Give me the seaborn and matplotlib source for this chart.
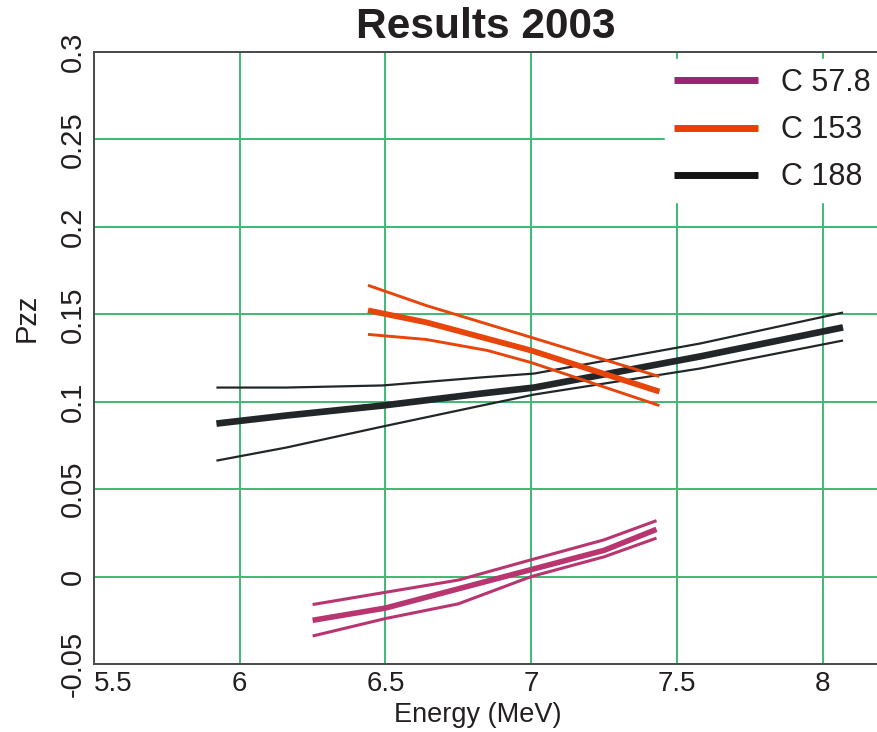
import matplotlib
matplotlib.use("Agg")
import matplotlib.pyplot as plt
from matplotlib.lines import Line2D
import seaborn as sns

# ---- data ----
c578_x = [6.25, 6.5, 6.75, 7.0, 7.25, 7.43]
c578_mid = [-0.025, -0.018, -0.007, 0.004, 0.015, 0.027]
c578_hi = [-0.016, -0.009, -0.002, 0.0096, 0.021, 0.032]
c578_lo = [-0.034, -0.024, -0.0156, 0.0, 0.0113, 0.022]

c153_x = [6.44, 6.64, 7.0, 7.44]
c153_hi = [0.1666, 0.155, 0.1368, 0.1144]
c153_mid = [0.1522, 0.1454, 0.1293, 0.1058]
c153_lo_x = [6.44, 6.64, 6.85, 7.0, 7.44]
c153_lo = [0.1385, 0.1356, 0.1293, 0.1224, 0.0978]

c188_x = [5.92, 6.16, 6.49, 6.83, 7.01, 7.58, 8.07]
c188_hi = [0.1081, 0.1081, 0.1093, 0.1139, 0.1161, 0.1333, 0.151]
c188_mid = [0.0875, 0.0921, 0.0978, 0.1047, 0.1081, 0.1259, 0.1425]
c188_lo = [0.0663, 0.0738, 0.0858, 0.0978, 0.1041, 0.119, 0.135]

series_labels = ["C 57.8", "C 153", "C 188"]
x_ticks = [5.5, 6, 6.5, 7, 7.5, 8]
x_tick_labels = ["5.5", "6", "6.5", "7", "7.5", "8"]
y_ticks = [-0.05, 0, 0.05, 0.1, 0.15, 0.2, 0.25, 0.3]
y_tick_labels = ["-0.05", "0", "0.05", "0.1", "0.15", "0.2", "0.25", "0.3"]

# ---- style ----
sns.set_style("white")
plt.rcParams["font.family"] = ["Liberation Sans", "DejaVu Sans"]
plt.rcParams["lines.solid_capstyle"] = "butt"
TXT = "#231f20"

col_mag = "#b8356f"
col_org = "#e8450a"
col_blk = "#222628"

fig = plt.figure(figsize=(8.78, 7.32), dpi=100)
ax = fig.add_axes([94 / 878, 1 - 664 / 732, 1 - 94 / 878, (664 - 52) / 732])

kw = dict(ax=ax, sort=False, estimator=None, solid_capstyle="butt")
# black (C 188)
sns.lineplot(x=c188_x, y=c188_hi, color=col_blk, lw=1.6, **kw)
sns.lineplot(x=c188_x, y=c188_lo, color=col_blk, lw=1.6, **kw)
sns.lineplot(x=c188_x, y=c188_mid, color=col_blk, lw=4.8, **kw)
# orange (C 153)
sns.lineplot(x=c153_x, y=c153_hi, color=col_org, lw=2.1, **kw)
sns.lineplot(x=c153_lo_x, y=c153_lo, color=col_org, lw=2.1, **kw)
sns.lineplot(x=c153_x, y=c153_mid, color=col_org, lw=4.2, **kw)
# magenta (C 57.8)
sns.lineplot(x=c578_x, y=c578_hi, color=col_mag, lw=2.2, **kw)
sns.lineplot(x=c578_x, y=c578_lo, color=col_mag, lw=2.2, **kw)
sns.lineplot(x=c578_x, y=c578_mid, color=col_mag, lw=4.0, **kw)

ax.set_xlim(5.5, 8.19)
ax.set_ylim(-0.05, 0.3)
ax.set_xticks(x_ticks)
ax.set_xticklabels(x_tick_labels, fontsize=20, color=TXT)
ax.set_yticks(y_ticks)
ax.set_yticklabels(y_tick_labels, fontsize=21, color=TXT, rotation=90, va="center")
ax.get_xticklabels()[0].set_horizontalalignment("left")
ax.tick_params(axis="both", length=0)
ax.tick_params(axis="x", pad=5)
ax.tick_params(axis="y", pad=5)

ax.grid(True, color="#3dba74", lw=1.4)
ax.set_axisbelow(True)
for s in ["left", "top", "bottom"]:
    ax.spines[s].set_color("#4a4a4a")
    ax.spines[s].set_linewidth(1.4)
ax.spines["right"].set_visible(False)

ax.set_xlabel("Energy (MeV)", fontsize=19.5, color=TXT, labelpad=0)
ax.xaxis.set_label_coords((478 - 94) / 784, -(728 - 664) / 612)
ax.xaxis.label.set_va("bottom")
ax.set_ylabel("Pzz", fontsize=21, color=TXT)
ax.yaxis.set_label_coords(-0.068, 0.565)
ax.set_title("Results 2003", fontsize=30.5, fontweight="bold", color=TXT, pad=10)

handles = [
    Line2D([], [], color="#9c2373", lw=5, solid_capstyle="butt"),
    Line2D([], [], color="#e84000", lw=5, solid_capstyle="butt"),
    Line2D([], [], color="#151515", lw=5, solid_capstyle="butt"),
]
leg = ax.legend(handles, series_labels, loc="upper left",
                bbox_to_anchor=(665 / 878, 1 - 59 / 732), bbox_transform=fig.transFigure,
                fontsize=22, frameon=True, fancybox=False, framealpha=1,
                edgecolor="white", facecolor="white", borderpad=0.3,
                handlelength=2.75, handletextpad=0.75, labelspacing=0.56,
                borderaxespad=0)
for t in leg.get_texts():
    t.set_color(TXT)

fig.savefig("out.png", dpi=100)
